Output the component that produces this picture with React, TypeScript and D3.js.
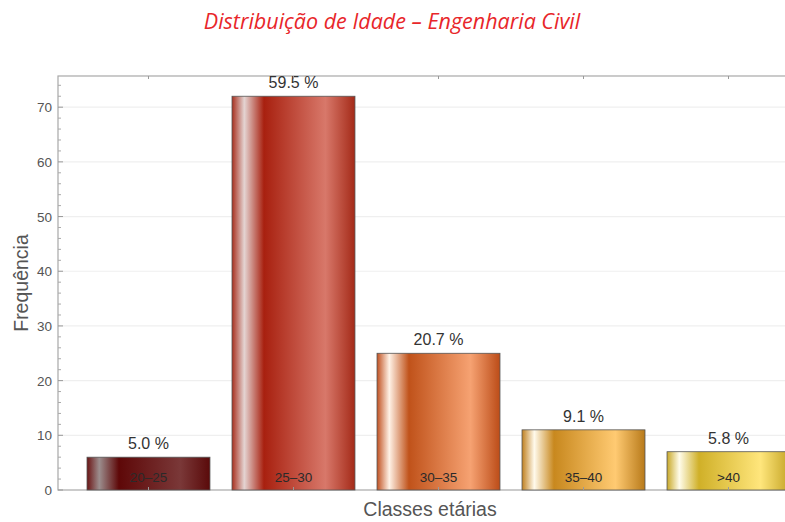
import React from 'react';
import * as d3 from 'd3';

const categories = ['20–25', '25–30', '30–35', '35–40', '>40'];
const frequencies = [6, 72, 25, 11, 7];
const percentLabels = ['5.0 %', '59.5 %', '20.7 %', '9.1 %', '5.8 %'];
const yTicks = [0, 10, 20, 30, 40, 50, 60, 70];

// glass-like horizontal gradients: edge, highlight, base, light, edge
const barColors = [
  ['#6a1414', '#9c8e8e', '#5e0808', '#7a3838', '#5a0a0a'],
  ['#a8301f', '#e4d4d2', '#a8200f', '#d8786a', '#a42a18'],
  ['#c05020', '#fff2e6', '#c0521a', '#f6a272', '#bc4c18'],
  ['#c08020', '#fffaec', '#c8881e', '#ffca72', '#b87a1a'],
  ['#c8a828', '#fffcea', '#d0b028', '#ffe67c', '#c4a424'],
];
const stopOffsets = ['0%', '10%', '26%', '76%', '100%'];

const W = 785;
const H = 522;
const left = 58;
const right = 819;
const top = 76;
const bottom = 490;

export default function App() {
  const x = d3.scaleBand<string>()
    .domain(categories)
    .range([left, right])
    .paddingInner(0.152)
    .paddingOuter(0.2);

  const y = d3.scaleLinear().domain([0, 75.7]).range([bottom, top]);

  const minorTicks = d3.range(0, 76, 2).filter(v => v % 10 !== 0);
  const font = 'Liberation Sans, Arial, sans-serif';

  return (
    <svg width={W} height={H} style={{ position: 'absolute', left: 0, top: 0, overflow: 'hidden', background: '#fff' }}>
      <defs>
        {barColors.map((cols, i) => (
          <linearGradient key={i} id={`g${i}`} x1="0" x2="1" y1="0" y2="0">
            {cols.map((c, j) => <stop key={j} offset={stopOffsets[j]} stopColor={c} />)}
          </linearGradient>
        ))}
      </defs>

      <text x={392} y={29} textAnchor="middle" fill="#e8262a" fontStyle="italic"
        fontFamily="Open Sans, Noto Sans, sans-serif" fontSize={21.5}>
        Distribuição de Idade – Engenharia Civil
      </text>

      {/* grid */}
      {yTicks.slice(1).map(t => (
        <line key={t} x1={left} x2={right} y1={y(t)} y2={y(t)} stroke="#efefef" strokeWidth={1.2} />
      ))}

      {/* frame */}
      <rect x={left} y={top} width={right - left} height={bottom - top} fill="none" stroke="#a8a8a8" strokeWidth={1.2} />

      {/* y ticks */}
      {yTicks.map(t => (
        <g key={t}>
          <line x1={left} x2={left + 5} y1={y(t)} y2={y(t)} stroke="#999" />
          <text x={left - 6} y={y(t) + 5} textAnchor="end" fill="#555" fontFamily={font} fontSize={13.5}>{t}</text>
        </g>
      ))}
      {minorTicks.map(t => (
        <line key={t} x1={left} x2={left + 3} y1={y(t)} y2={y(t)} stroke="#aaa" />
      ))}

      {/* bars */}
      {categories.map((c, i) => {
        const bx = x(c)!;
        const bw = x.bandwidth();
        const cx = bx + bw / 2;
        return (
          <g key={c}>
            <rect x={bx} y={y(frequencies[i])} width={bw} height={bottom - y(frequencies[i])}
              fill={`url(#g${i})`} stroke="#555" strokeWidth={0.8} />
            <text x={cx} y={y(frequencies[i]) - 8} textAnchor="middle" fill="#333" fontFamily={font} fontSize={16}>
              {percentLabels[i]}
            </text>
            <text x={cx} y={bottom - 8} textAnchor="middle" fill="#2a2a2a" fontFamily={font} fontSize={13.5}>
              {c}
            </text>
            <line x1={cx} x2={cx} y1={bottom} y2={bottom - 3} stroke="#999" />
            <line x1={cx} x2={cx} y1={top} y2={top + 3} stroke="#999" />
          </g>
        );
      })}

      <text x={430} y={516} textAnchor="middle" fill="#555" fontFamily={font} fontSize={19.5}>Classes etárias</text>
      <text transform={`translate(28,${(top + bottom) / 2}) rotate(-90)`} textAnchor="middle" fill="#555"
        fontFamily={font} fontSize={19.5}>Frequência</text>
    </svg>
  );
}
